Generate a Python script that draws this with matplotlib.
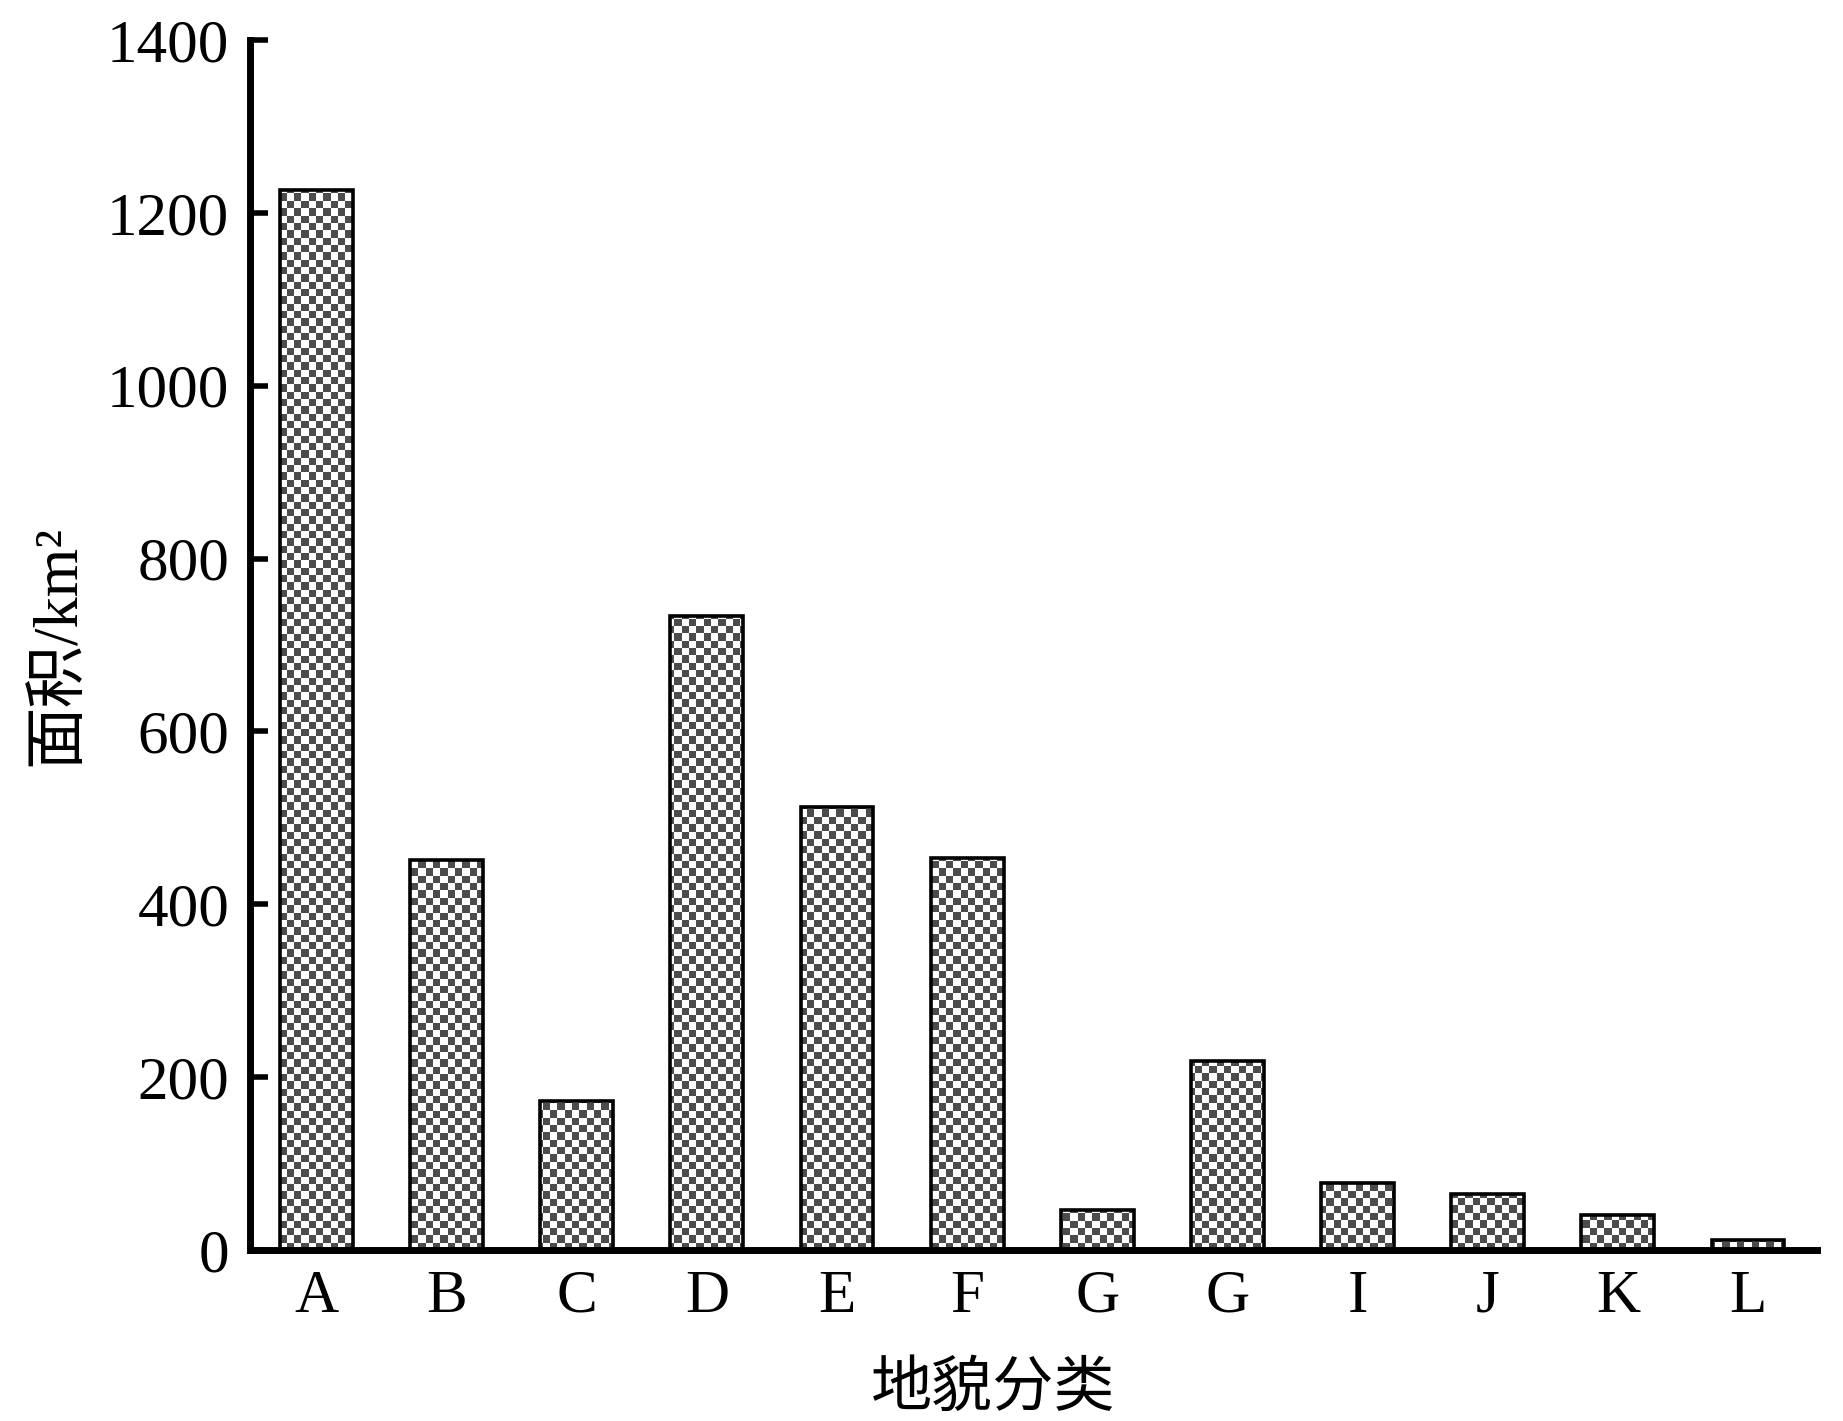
import numpy as np
import matplotlib
matplotlib.use("Agg")
import matplotlib.pyplot as plt

# ---------------- datos ----------------
categorias = ["A", "B", "C", "D", "E", "F", "G", "G", "I", "J", "K", "L"]
area = [1227, 451, 172, 734, 513, 453, 46, 219, 78, 65, 40, 12]
yticks = [0, 200, 400, 600, 800, 1000, 1200, 1400]

serif = ["Liberation Serif", "Noto Sans CJK SC"]
plt.rcParams["font.family"] = serif

fig = plt.figure(figsize=(18.43, 14.21), dpi=100)
ax = fig.add_axes([250 / 1843, 1 - 1250 / 1421, 1567 / 1843, 1210 / 1421])

x = np.arange(len(categorias))
bars = ax.bar(x, area, width=0.56, facecolor="none", edgecolor="black",
              linewidth=2.6, zorder=3)

xlim = (-0.51, 11.53)
ylim = (0, 1400)

# relleno de tablero de ajedrez (celdas ~7.3 px)
ncol = int(1567 / 7.3)
nrow = int(1210 / 7.3)
tablero = (np.indices((nrow, ncol)).sum(axis=0) % 2).astype(float)
cmap = matplotlib.colors.ListedColormap(["white", "#4c4c4c"])
for b in bars:
    im = ax.imshow(tablero, extent=(xlim[0], xlim[1], ylim[0], ylim[1]),
                   aspect="auto", interpolation="nearest", cmap=cmap,
                   origin="lower", zorder=2)
    im.set_clip_path(b)

ax.set_xlim(*xlim)
ax.set_ylim(*ylim)
ax.set_xticks(x)
ax.set_xticklabels(categorias)
ax.set_yticks(yticks)

ax.spines["top"].set_visible(False)
ax.spines["right"].set_visible(False)
ax.spines["left"].set_linewidth(5)
ax.spines["bottom"].set_linewidth(5)
ax.spines["bottom"].set_zorder(4)

ax.tick_params(axis="y", direction="in", length=13, width=4, pad=15, labelsize=44)
ax.tick_params(axis="x", length=0, pad=14, labelsize=44)

ax.set_ylabel("面积/km²", fontsize=45, family=serif)
ax.set_xlabel("地貌分类", fontsize=44, family=serif)
ax.yaxis.set_label_coords(-0.103, 0.5)
ax.xaxis.set_label_coords(0.474, -0.093)

fig.savefig("out.png", dpi=100)
